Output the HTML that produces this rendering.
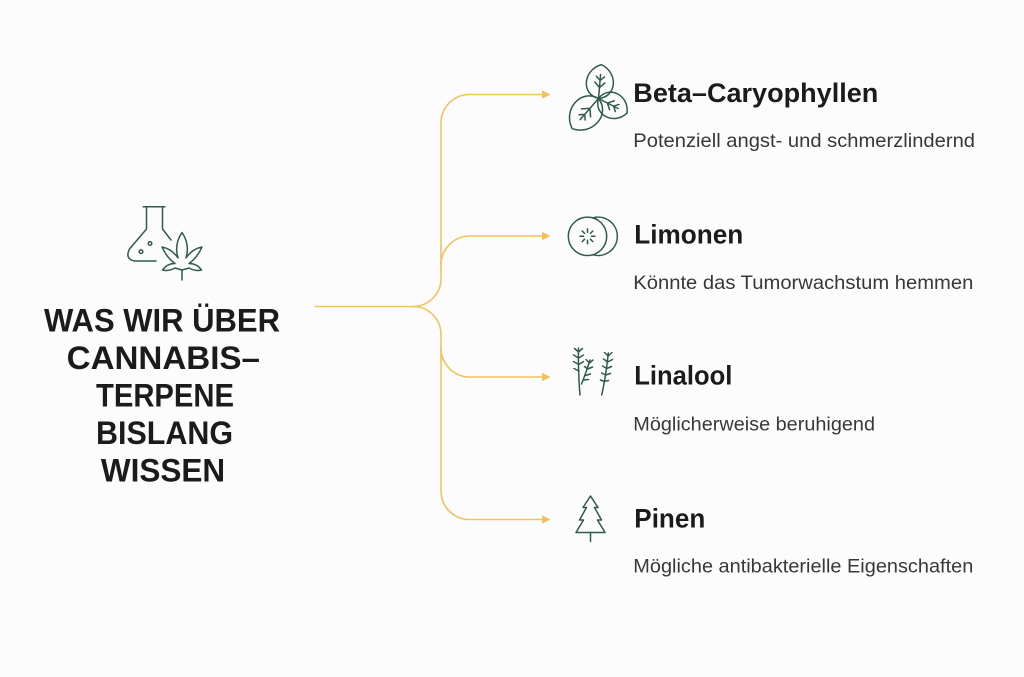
<!DOCTYPE html>
<html>
<head>
<meta charset="utf-8">
<style>
  html, body { margin:0; padding:0; background:#fcfcfc; }
  body { width:1024px; height:677px; overflow:hidden; }
  svg { display:block; }
  .t { font-family:"Liberation Sans", sans-serif; font-weight:bold; fill:#1b1b1b; }
  .h { font-family:"Liberation Sans", sans-serif; font-weight:bold; fill:#1b1b1b; font-size:26.5px; }
  .s { font-family:"Liberation Sans", sans-serif; fill:#383838; font-size:19.5px; }
  .ic { fill:none; stroke:#2f5b4a; stroke-width:1.5; stroke-linecap:round; stroke-linejoin:round; }
  .cn { fill:none; stroke:#f1c25d; stroke-width:1.6; }
</style>
</head>
<body>
<svg width="1024" height="677" viewBox="0 0 1024 677" xmlns="http://www.w3.org/2000/svg">
  <rect width="1024" height="677" fill="#fcfcfc"/>

  <!-- Title -->
  <g class="t" font-size="32.7" text-anchor="middle">
    <text x="162" y="331.7" textLength="236" lengthAdjust="spacingAndGlyphs">WAS WIR ÜBER</text>
    <text x="163.3" y="369.2" textLength="193.3" lengthAdjust="spacingAndGlyphs">CANNABIS–</text>
    <text x="165" y="406.7" textLength="138" lengthAdjust="spacingAndGlyphs">TERPENE</text>
    <text x="164.5" y="444.2" textLength="137" lengthAdjust="spacingAndGlyphs">BISLANG</text>
    <text x="163" y="481.7" textLength="124.3" lengthAdjust="spacingAndGlyphs">WISSEN</text>
  </g>

  <!-- Flask + cannabis icon -->
  <g class="ic">
    <path d="M143.3,206.7 H165"/>
    <path d="M146.5,207 V229 L129.5,249 Q126,256 130,259 Q132,261 136,261 H156"/>
    <path d="M162.5,207 V229 L171,240"/>
    <circle cx="150" cy="243.5" r="1.8"/>
    <circle cx="141" cy="251.7" r="1.8"/>
    <g transform="translate(182,270)">
      <path d="M0,0 L-7,-2 Q-13,1.5 -19.5,0 Q-15,-6.5 -7,-6.5 Q-15,-12 -20,-23 Q-10,-21 -4,-12 Q-8,-26 0,-37.5 Q8,-26 4,-12 Q10,-21 20,-23 Q15,-12 7,-6.5 Q15,-6.5 19.5,0 Q13,1.5 7,-2 Z"/>
      <path d="M0,0 V10"/>
    </g>
  </g>

  <!-- Connectors -->
  <g class="cn">
    <path d="M315,306.5 H413 A28,28 0 0 0 441,278.5 V123 A28.5,28.5 0 0 1 469.5,94.5 H543"/>
    <path d="M413,306.5 A28,28 0 0 1 441,334.5 V491 A28.5,28.5 0 0 0 469.5,519.5 H543"/>
    <path d="M441,265 A29,29 0 0 1 470,236 H543"/>
    <path d="M441,348 A29,29 0 0 0 470,377 H543"/>
  </g>
  <g fill="#f1c25d">
    <polygon points="542,90.3 550.5,94.5 542,98.7"/>
    <polygon points="542,231.8 550.5,236 542,240.2"/>
    <polygon points="542,372.8 550.5,377 542,381.2"/>
    <polygon points="542,515.3 550.5,519.5 542,523.7"/>
  </g>

  <!-- Trefoil icon -->
  <g class="ic">
    <g transform="translate(598.5,98.5) rotate(5)">
      <path d="M0,0 C18,-3 18,-27 0,-34 C-18,-27 -18,-3 0,0 Z"/>
      <path d="M0,0 V-24 M0,-11 L-5,-16 M0,-11 L5,-16 M0,-18 L-4,-22 M0,-18 L4,-22"/>
    </g>
    <g transform="translate(598.5,98.5) rotate(-139)">
      <path d="M0,0 C20,-4 20,-32 0,-40 C-20,-32 -20,-4 0,0 Z"/>
      <path d="M0,0 V-28 M0,-13 L-6,-19 M0,-13 L6,-19 M0,-21 L-4,-25 M0,-21 L4,-25"/>
    </g>
    <g transform="translate(598.5,98.5) rotate(117)">
      <path d="M0,0 C17,-3 17,-26 0,-32 C-17,-26 -17,-3 0,0 Z"/>
      <path d="M0,0 V-22 M0,-10 L-5,-15 M0,-10 L5,-15 M0,-17 L-4,-21 M0,-17 L4,-21"/>
    </g>
  </g>

  <!-- Limonen icon -->
  <g class="ic">
    <path d="M593,217.8 A19.2,19.2 0 1 1 593,254.8"/>
    <circle cx="587.5" cy="236.3" r="19.2" fill="#fcfcfc"/>
    <g transform="translate(587.5,236.3)">
      <path d="M0,-4 V-7.5 M0,4 V7.5 M-4,0 H-7.5 M4,0 H7.5 M2.9,-2.9 L5.3,-5.3 M-2.9,2.9 L-5.3,5.3 M2.9,2.9 L5.3,5.3 M-2.9,-2.9 L-5.3,-5.3"/>
    </g>
  </g>

  <!-- Linalool icon -->
  <g class="ic">
    <path d="M580,395 Q578,372 578.5,348"/>
    <path d="M578.5,352 L574.5,348.5 M578.5,352 L582.5,348.5 M578.6,358 L573.5,355 M578.6,358 L583.5,355 M578.8,364.5 L573.5,361.5 M578.8,364.5 L583.5,361.5 M579,371 L574,368.5"/>
    <path d="M581.5,384 Q586,373 590,360"/>
    <path d="M589.5,363 L586,359.5 M589.5,363 L593,360 M587.8,369 L584.5,366.5 M587.8,369 L592.5,367 M585.5,375.5 L590.5,374 M583.5,380 L588.5,379.5"/>
    <path d="M601.7,395 Q606,376 608.3,353"/>
    <path d="M608.2,356 L604.5,352.5 M608.2,356 L612,352.5 M607.7,362 L603.5,359 M607.7,362 L612.5,359.5 M606.8,368.5 L602.5,366 M606.8,368.5 L611.5,366.5 M605.6,375 L601.5,373 M605.6,375 L610.5,373.5 M604.2,381.5 L600.5,380 M604.2,381.5 L608.5,380.5"/>
  </g>

  <!-- Pinen icon -->
  <g class="ic">
    <path d="M590.5,496 L583,507.5 L586.5,507.5 L579.5,520 L583.5,520 L576,532.5 L605,532.5 L597.5,520 L601.5,520 L594.5,507.5 L598,507.5 Z"/>
    <path d="M590.5,532.5 V541.5"/>
  </g>

  <!-- Right labels -->
  <text class="h" x="633.3" y="102" textLength="245" lengthAdjust="spacingAndGlyphs">Beta–Caryophyllen</text>
  <text class="s" x="633.3" y="147" textLength="341.7" lengthAdjust="spacingAndGlyphs">Potenziell angst- und schmerzlindernd</text>

  <text class="h" x="634.3" y="243.3" textLength="109" lengthAdjust="spacingAndGlyphs">Limonen</text>
  <text class="s" x="633.3" y="289" textLength="340" lengthAdjust="spacingAndGlyphs">Könnte das Tumorwachstum hemmen</text>

  <text class="h" x="634.3" y="384.7" textLength="98" lengthAdjust="spacingAndGlyphs">Linalool</text>
  <text class="s" x="633.3" y="430.5" textLength="241.7" lengthAdjust="spacingAndGlyphs">Möglicherweise beruhigend</text>

  <text class="h" x="634.3" y="527.3" textLength="71" lengthAdjust="spacingAndGlyphs">Pinen</text>
  <text class="s" x="633.3" y="572.7" textLength="340" lengthAdjust="spacingAndGlyphs">Mögliche antibakterielle Eigenschaften</text>
</svg>
</body>
</html>
